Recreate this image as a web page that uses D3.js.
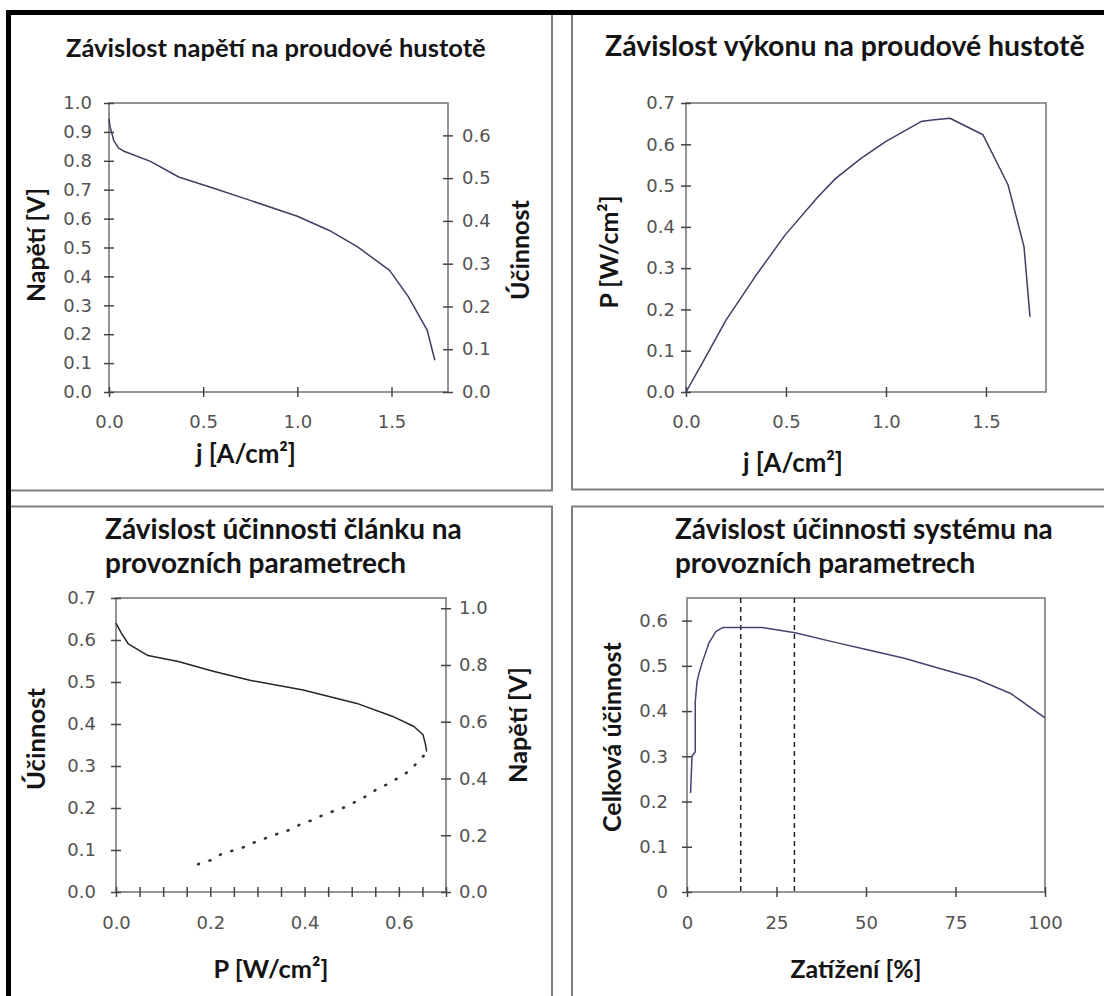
<!DOCTYPE html>
<html>
<head>
<meta charset="utf-8">
<script src="https://cdn.jsdelivr.net/npm/d3@7"></script>
<style>
	body { margin: 0; background: #fff; }
	svg { display: block; }
	.tick text { font-family: "DejaVu Sans", sans-serif; font-size: 18px; fill: #525252; }
	.tick line { stroke: #444; stroke-width: 1.5; }
	.title, .axis-title { font-family: Lato, "Open Sans", sans-serif; font-weight: bold; fill: #141414; }
</style>
</head>
<body>
<svg id="chart" width="1104" height="996"></svg>
<script>
// voltage vs current density
var vj_j = [0, 0.005, 0.025, 0.05, 0.076, 0.22, 0.37, 0.56, 0.75, 1.0, 1.17, 1.32, 1.49, 1.59, 1.69, 1.73];
var vj_U = [0.946, 0.92, 0.871, 0.845, 0.834, 0.798, 0.744, 0.704, 0.663, 0.608, 0.559, 0.502, 0.421, 0.329, 0.213, 0.11];

// power vs current density
var pj_j = [0, 0.08, 0.2, 0.345, 0.495, 0.66, 0.75, 0.875, 1.0, 1.175, 1.23, 1.32, 1.485, 1.61, 1.69, 1.72];
var pj_P = [0, 0.069, 0.174, 0.279, 0.38, 0.473, 0.518, 0.566, 0.607, 0.655, 0.659, 0.663, 0.623, 0.502, 0.352, 0.182];

// cell efficiency vs power (solid), voltage vs power on the low branch (dotted)
var ce_P = [0, 0.011, 0.026, 0.068, 0.132, 0.208, 0.284, 0.397, 0.511, 0.587, 0.632, 0.651, 0.656, 0.659];
var ce_eff = [0.640, 0.617, 0.591, 0.563, 0.549, 0.525, 0.504, 0.481, 0.449, 0.418, 0.394, 0.375, 0.354, 0.334];
var cu_P = [0.174, 0.201, 0.225, 0.246, 0.273, 0.295, 0.344, 0.367, 0.394, 0.416, 0.439, 0.466, 0.488, 0.534, 0.556, 0.579, 0.602, 0.625, 0.643, 0.659];
var cu_U = [0.098, 0.112, 0.135, 0.145, 0.159, 0.176, 0.206, 0.218, 0.241, 0.253, 0.271, 0.288, 0.300, 0.341, 0.365, 0.382, 0.406, 0.429, 0.465, 0.49];

// system efficiency vs load
var se_load = [1.0, 1.4, 2.3, 2.3, 2.8, 3.4, 4.2, 6.1, 8.1, 10.1, 15, 21, 30.2, 40.8, 50.7, 60.7, 70.6, 80.5, 90.4, 100];
var se_eff = [0.219, 0.30, 0.31, 0.42, 0.465, 0.485, 0.506, 0.55, 0.576, 0.585, 0.585, 0.585, 0.573, 0.553, 0.535, 0.517, 0.494, 0.472, 0.439, 0.385];
var se_marks = [15, 30];

// ticks
var ticksJ = [0, 0.5, 1.0, 1.5];
var ticksU = [0, 0.1, 0.2, 0.3, 0.4, 0.5, 0.6, 0.7, 0.8, 0.9, 1.0];
var ticksEff = [0, 0.1, 0.2, 0.3, 0.4, 0.5, 0.6];
var ticksP = [0, 0.1, 0.2, 0.3, 0.4, 0.5, 0.6, 0.7];
var ticksPx = d3.range(0, 0.7001, 0.05);
var ticksU2 = [0, 0.2, 0.4, 0.6, 0.8, 1.0];
var ticksLoad = [0, 25, 50, 75, 100];

var svg = d3.select('#chart');
var f1 = d3.format('.1f');

function fitText(sel, width) {
	var len = sel.node().getComputedTextLength();
	var fs = parseFloat(sel.style('font-size'));
	sel.style('font-size', (fs * width / len) + 'px');
	return sel;
}

function label(txt, x, y, width, rotate) {
	var t = svg.append('text').attr('class', 'axis-title')
		.attr('text-anchor', 'middle')
		.style('font-size', '20px')
		.text(txt);
	if(rotate)
		t.attr('dominant-baseline', 'central').attr('transform', 'translate(' + x + ',' + y + ') rotate(-90)');
	else
		t.attr('x', x).attr('y', y);
	return fitText(t, width);
}

function title(lines, x, y, width) {
	var t = svg.append('text').attr('class', 'title').attr('x', x).attr('y', y).style('font-size', '20px').text(lines[0]);
	fitText(t, width);
	var fs = t.style('font-size');
	for(var i = 1; i < lines.length; i++)
		svg.append('text').attr('class', 'title').attr('x', x).attr('y', y + i * 34).style('font-size', fs).text(lines[i]);
}

// cross the tick marks over the axis line (Excel style)
function cross(g, attr, v) {
	g.selectAll('.tick line').attr(attr, v);
	g.select('.domain').remove();
}

function panel(o) {
	var x = d3.scaleLinear().domain(o.xDomain).range([o.x0, o.x1]);
	var y = d3.scaleLinear().domain(o.yDomain).range([o.y1, o.y0]);

	svg.append('rect')
		.attr('x', o.x0).attr('y', o.y0)
		.attr('width', o.x1 - o.x0).attr('height', o.y1 - o.y0)
		.attr('fill', 'none').attr('stroke', '#7a7a7a').attr('stroke-width', 1.6);

	var gl = svg.append('g').attr('transform', 'translate(' + o.x0 + ',0)')
		.call(d3.axisLeft(y).tickValues(o.yTicks).tickFormat(o.yFormat || f1).tickSize(5).tickPadding(o.yPad));
	cross(gl, 'x1', 5);

	var gb = svg.append('g').attr('transform', 'translate(0,' + o.y1 + ')')
		.call(d3.axisBottom(x).tickValues(o.xTicks).tickFormat(o.xFormat || f1).tickSize(5).tickPadding(o.xPad));
	cross(gb, 'y1', -5);

	var y2 = null;
	if(o.y2Domain) {
		y2 = d3.scaleLinear().domain(o.y2Domain).range([o.y1, o.y0]);
		var gr = svg.append('g').attr('transform', 'translate(' + o.x1 + ',0)')
			.call(d3.axisRight(y2).tickValues(o.y2Ticks).tickFormat(f1).tickSize(5).tickPadding(o.y2Pad));
		cross(gr, 'x1', -5);
	}
	return { x: x, y: y, y2: y2 };
}

function curve(xs, ys, sx, sy, color, dash) {
	var pts = xs.map(function(d, i) { return [d, ys[i]]; });
	var line = d3.line().x(function(d) { return sx(d[0]); }).y(function(d) { return sy(d[1]); });
	var p = svg.append('path').datum(pts)
		.attr('d', line)
		.attr('fill', 'none')
		.attr('stroke', color)
		.attr('stroke-width', dash ? 2.6 : 1.5)
		.attr('stroke-linejoin', 'round');
	if(dash)
		p.attr('stroke-dasharray', dash).attr('stroke-linecap', 'round');
}

// frame: black outer edges, grey panel separators
function hline(x1, x2, y, c, w) {
	svg.append('line').attr('x1', x1).attr('x2', x2).attr('y1', y).attr('y2', y).attr('stroke', c).attr('stroke-width', w);
}
function vline(x, y1, y2, c, w) {
	svg.append('line').attr('x1', x).attr('x2', x).attr('y1', y1).attr('y2', y2).attr('stroke', c).attr('stroke-width', w);
}
vline(552, 14, 491, '#808080', 2);
vline(572, 14, 490, '#808080', 2);
hline(10, 553, 490.5, '#808080', 2);
hline(571, 1104, 489.5, '#808080', 2);
hline(10, 553, 506.5, '#808080', 2);
hline(571, 1104, 506.5, '#808080', 2);
vline(552, 506, 996, '#808080', 2);
vline(572, 506, 996, '#808080', 2);
hline(6, 1104, 12.5, '#000', 5);
vline(8.5, 10, 996, '#000', 5);

// 1: voltage vs current density
var a = panel({
	x0: 109, x1: 448, y0: 103, y1: 392,
	xDomain: [0, 1.8], yDomain: [0, 1.0], y2Domain: [0, 1 / 1.48],
	xTicks: ticksJ, yTicks: ticksU, y2Ticks: ticksEff,
	yPad: 12, y2Pad: 9, xPad: 18
});
curve(vj_j, vj_U, a.x, a.y, '#3e3e62');
title(['Závislost napětí na proudové hustotě'], 66, 57, 420);
label('Napětí [V]', 35, 245, 114, true);
label('Účinnost', 519, 250, 100, true);
label('j [A/cm²]', 246, 463, 100);

// 2: power vs current density
var b = panel({
	x0: 686, x1: 1046, y0: 103, y1: 392,
	xDomain: [0, 1.8], yDomain: [0, 0.7],
	xTicks: ticksJ, yTicks: ticksP,
	yPad: 6, xPad: 18
});
curve(pj_j, pj_P, b.x, b.y, '#3e3e62');
title(['Závislost výkonu na proudové hustotě'], 605, 56, 480);
label('P [W/cm²]', 608, 252, 113, true);
label('j [A/cm²]', 793, 472, 100);

// 3: cell efficiency vs power
var c = panel({
	x0: 116, x1: 446, y0: 598, y1: 892,
	xDomain: [0, 0.7], yDomain: [0, 0.7], y2Domain: [0, 0.7 * 1.48],
	xTicks: ticksPx, yTicks: ticksP, y2Ticks: ticksU2,
	xFormat: function(d) { return Math.abs(d * 5 - Math.round(d * 5)) < 1e-6 ? f1(d) : ''; },
	yPad: 15, y2Pad: 8, xPad: 19
});
curve(ce_P, ce_eff, c.x, c.y, '#262626');
curve(cu_P, cu_U, c.x, c.y2, '#333', '1,11');
title(['Závislost účinnosti článku na', 'provozních parametrech'], 105, 539, 357);
label('Účinnost', 35, 739, 102, true);
label('Napětí [V]', 517, 725, 116, true);
label('P [W/cm²]', 271, 978, 115);

// 4: system efficiency vs load
var s = panel({
	x0: 687, x1: 1045, y0: 598, y1: 892,
	xDomain: [0, 100], yDomain: [0, 0.65],
	xTicks: ticksLoad, yTicks: ticksEff,
	xFormat: d3.format('d'),
	yFormat: function(d) { return d === 0 ? '0' : f1(d); },
	yPad: 14, xPad: 19
});
svg.selectAll('line.mark').data(se_marks).enter().append('line')
	.attr('class', 'mark')
	.attr('x1', function(d) { return s.x(d); }).attr('x2', function(d) { return s.x(d); })
	.attr('y1', s.y(0.65)).attr('y2', s.y(0))
	.attr('stroke', '#222').attr('stroke-width', 1.5).attr('stroke-dasharray', '5,4');
curve(se_load, se_eff, s.x, s.y, '#44446e');
title(['Závislost účinnosti systému na', 'provozních parametrech'], 675, 539, 378);
label('Celková účinnost', 611, 737, 190, true);
label('Zatížení [%]', 856, 978, 131);
</script>
</body>
</html>
